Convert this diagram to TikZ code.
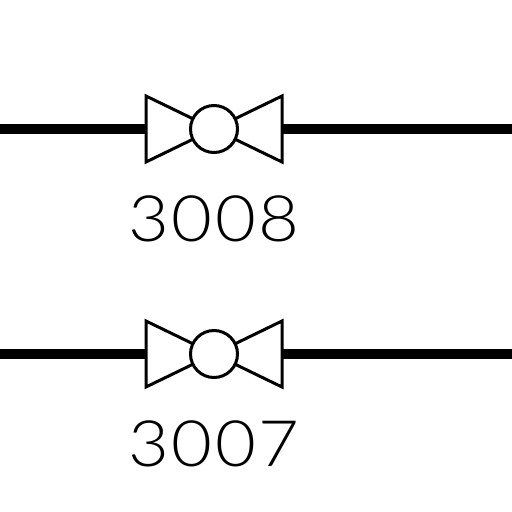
\documentclass[tikz,border=0pt]{standalone}
\usepackage{fontspec}
\setmainfont[FakeStretch=1.1,LetterSpace=3.5]{Lato Light}
\begin{document}
\begin{tikzpicture}[x=1pt,y=-1pt,
  pipeline/.style={line width=10pt,black},
  valveline/.style={line width=3pt,black,line join=miter},
  ball/.style={circle,draw=black,line width=3pt,fill=white,minimum size=47pt,inner sep=0pt},
  taglabel/.style={font=\fontsize{64}{64}\selectfont,inner sep=0pt,text=black}]
\useasboundingbox (0,0) rectangle (512,512);
\foreach \yy/\lab in {129/3008,354/3007}{
  \coordinate (west\lab) at (0,\yy);
  \coordinate (east\lab) at (512,\yy);
  \coordinate (inl\lab) at (146,\yy);
  \coordinate (outl\lab) at (282,\yy);
  \draw[pipeline] (west\lab) -- (inl\lab);
  \draw[pipeline] (outl\lab) -- (east\lab);
  \draw[valveline] (146,\yy-33) -- (146,\yy+33) -- (282,\yy-33) -- (282,\yy+33) -- cycle;
  \node[ball] (valve\lab) at (214,\yy) {};
  \node[taglabel] (tag\lab) at (214,\yy+90) {\lab};
}
\end{tikzpicture}
\end{document}
